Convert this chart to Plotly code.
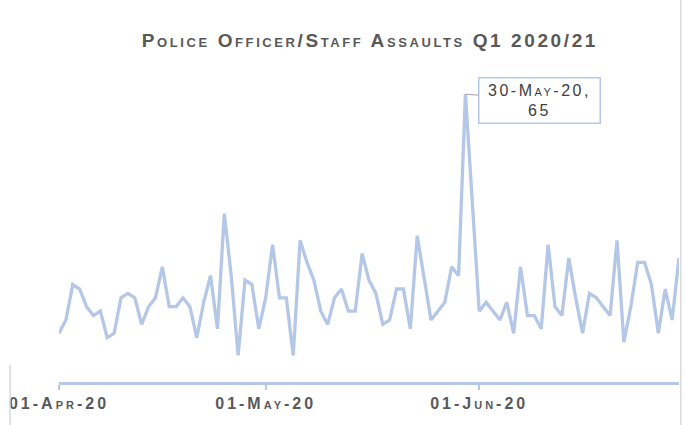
import pandas as pd
import plotly.graph_objects as go

start_date = '2020-04-01'
assaults = [11, 14, 22, 21, 17, 15, 16, 10, 11, 19,
            20, 19, 13, 17, 19, 26, 17, 17, 19, 17,
            10, 18, 24, 12, 38, 24, 6, 23, 22, 12,
            19, 31, 19, 19, 6, 32, 27, 23, 16, 13,
            19, 21, 16, 16, 29, 23, 20, 13, 14, 21,
            21, 12, 33, 23, 14, 16, 18, 26, 24, 65,
            40, 16, 18, 16, 14, 18, 11, 26, 15, 15,
            12, 31, 17, 15, 28, 19, 11, 20, 19, 17,
            15, 32, 9, 17, 27, 27, 22, 11, 21, 14, 28]
dates = pd.date_range(start_date, periods=len(assaults), freq='D')

tick_dates = ['2020-04-01', '2020-05-01', '2020-06-01']
tick_text = ['01-Apr-20', '01-May-20', '01-Jun-20']

peak_date = '2020-05-30'
peak_value = 65
peak_label = ['30-May-20,', '65']

chart_title = 'Police Officer/Staff Assaults Q1 2020/21'

line_col = '#b4c7e7'
text_col = '#595959'
font = 'Liberation Sans, Arial, sans-serif'


def spaced(s, px):
    return f'<span style="letter-spacing:{px}px">{s}</span>'


fig = go.Figure()
fig.add_trace(go.Scatter(x=dates, y=assaults, mode='lines',
                         line=dict(color=line_col, width=3.3), hoverinfo='x+y'))

fig.add_annotation(x=peak_date, y=peak_value,
                   text='<br>'.join(spaced(t, 2.5) for t in peak_label),
                   showarrow=True, arrowhead=0, arrowwidth=1, arrowcolor='#a6a6a6',
                   ax=74, ay=6, bordercolor=line_col, borderwidth=1.5, borderpad=3,
                   bgcolor='white', width=114, align='center',
                   font=dict(family=font, size=16, color='#404040', variant='small-caps'))

# frame edges left over from the original crop
fig.add_shape(type='line', xref='paper', yref='paper', x0=1.003, x1=1.003, y0=-0.14, y1=1.24,
              line=dict(color='#d9d9d9', width=1.5))
fig.add_shape(type='line', xref='paper', yref='paper', x0=-0.079, x1=-0.079, y0=-0.14, y1=0.055,
              line=dict(color='#d9d9d9', width=1.5))

fig.update_layout(
    width=685, height=425,
    margin=dict(l=59, r=6, t=72, b=43),
    paper_bgcolor='white', plot_bgcolor='white',
    showlegend=False,
    title=dict(text='<b>' + spaced(chart_title, 2.6) + '</b>',
               x=0.54, xanchor='center', y=0.906, yanchor='middle',
               font=dict(family=font, size=19, color=text_col, variant='small-caps')),
    xaxis=dict(range=['2020-04-01', '2020-06-30'], tickvals=tick_dates,
               ticktext=[spaced(t, 3) for t in tick_text],
               showgrid=False, zeroline=False, showline=True, linecolor=line_col, linewidth=2.5,
               ticks='outside', ticklen=5, tickwidth=2, tickcolor=line_col,
               tickfont=dict(family=font, size=16, color=text_col, variant='small-caps', weight='bold')),
    yaxis=dict(range=[0, 70], visible=False),
)

fig.write_html('out.html', config={'displayModeBar': False},
               post_script="document.body.style.margin='0';document.body.style.overflow='hidden';")
